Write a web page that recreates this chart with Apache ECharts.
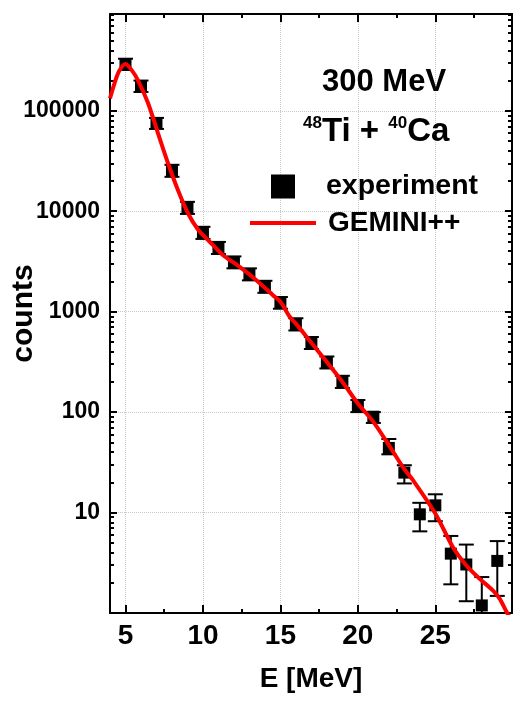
<!DOCTYPE html>
<html><head><meta charset="utf-8">
<script src="https://cdn.jsdelivr.net/npm/echarts@6/dist/echarts.min.js"></script>
<style>html,body{margin:0;padding:0;background:#fff}#c{width:513px;height:706px}</style>
</head><body><div id="c"></div>
<script>
const energies   = [5, 6, 7, 8, 9, 10, 11, 12, 13, 14, 15, 16, 17, 18, 19, 20, 21, 22, 23, 24, 25, 26, 27, 28, 29];
const counts     = [290000, 176000, 75000, 25300, 10800, 6100, 4300, 3090, 2350, 1770, 1224, 746, 489, 312, 200, 115, 90, 44, 25, 9.6, 11.8, 3.9, 3.04, 1.19, 3.3];
const countsLow  = [255000, 154000, 66000, 22000, 9400, 5300, 3750, 2700, 2050, 1540, 1070, 650, 425, 272, 174, 100, 78, 38, 19.5, 6.5, 8.2, 1.93, 1.31, 0.5, 1.48];
const countsHigh = [330000, 200000, 85000, 29000, 12400, 7000, 4950, 3550, 2700, 2030, 1400, 860, 560, 358, 230, 132, 100, 54, 29.6, 12.5, 15.2, 5.85, 4.8, 2.28, 5.2];

const modelE      = [4.0, 4.3, 4.6, 5.0, 5.4, 5.8, 6.46, 7.1, 7.75, 8.39, 9.04, 9.68, 10.33, 10.76, 11.3, 12.37, 13.45, 14.52, 15.0, 15.6, 16, 17, 18, 19, 20, 21, 22, 23, 23.56, 25, 26.13, 26.99, 27.85, 28.71, 29.15, 29.64, 30];
const modelCounts = [133000, 190000, 250000, 292000, 254000, 202000, 119000, 59600, 29900, 16200, 9500, 6590, 5150, 4420, 3650, 2790, 2060, 1459, 1253, 890, 760, 490, 315, 200, 122, 80, 47, 27, 21, 9.8, 4.54, 2.99, 2.2, 1.68, 1.39, 1.0, 0.82];

const xMajorTicks = [5, 10, 15, 20, 25];
const xMinorTicks = [7.5, 12.5, 17.5, 22.5, 27.5];
const yMajorTicks = [10, 100, 1000, 10000, 100000];
const yTickLabels = ['10', '100', '1000', '10000', '100000'];
const yMinorTicks = [2,3,4,5,6,7,8,9, 20,30,40,50,60,70,80,90, 200,300,400,500,600,700,800,900,
  2000,3000,4000,5000,6000,7000,8000,9000, 20000,30000,40000,50000,60000,70000,80000,90000,
  200000,300000,400000,500000,600000,700000,800000,900000];

const FONT = '"Liberation Sans", Arial, sans-serif';
const X_MIN = 4, X_MAX = 29.95, Y_MIN = 1, Y_MAX = 920000;
const tickStyle = {color: '#000', width: 2};
const gridLine = {show: true, lineStyle: {type: 'dotted', color: '#c8c8c8', width: 1}};

function xAx(pos, ticks, len, main) {
  return {
    type: 'value', gridIndex: 0, position: pos, min: X_MIN, max: X_MAX,
    axisLine: {show: !!main, onZero: false, lineStyle: {color: '#000', width: 2}},
    axisTick: {show: true, inside: true, length: len, customValues: ticks, lineStyle: tickStyle},
    axisLabel: main === 'label' ? {show: true, customValues: ticks, fontSize: 28, fontWeight: 'bold', color: '#000', fontFamily: FONT, margin: 9} : {show: false},
    splitLine: main === 'label' ? gridLine : {show: false},
    name: main === 'label' ? 'E [MeV]' : '',
    nameLocation: 'middle', nameGap: 52, nameMoveOverlap: false,
    nameTextStyle: {fontSize: 28, fontWeight: 'bold', color: '#000', fontFamily: FONT}
  };
}
function yAx(pos, ticks, len, main) {
  return {
    type: 'log', logBase: 10, gridIndex: 0, position: pos, min: Y_MIN, max: Y_MAX,
    axisLine: {show: !!main, lineStyle: {color: '#000', width: 2}},
    axisTick: {show: true, inside: true, length: len, customValues: ticks, lineStyle: tickStyle},
    axisLabel: main === 'label' ? {
      show: true, customValues: ticks, fontSize: 23, fontWeight: 'bold', color: '#000', fontFamily: FONT, margin: 10,
      formatter: function (v) {
        for (let i = 0; i < yMajorTicks.length; i++) if (Math.abs(yMajorTicks[i] - v) / yMajorTicks[i] < 1e-6) return yTickLabels[i];
        return '';
      }
    } : {show: false},
    splitLine: main === 'label' ? gridLine : {show: false},
    minorTick: {show: false}, minorSplitLine: {show: false},
    name: main === 'label' ? 'counts' : '',
    nameLocation: 'middle', nameGap: 71, nameRotate: 90, nameMoveOverlap: false,
    nameTextStyle: {fontSize: 30, fontWeight: 'bold', color: '#000', fontFamily: FONT}
  };
}

const chart = echarts.init(document.getElementById('c'), null, {renderer: 'canvas'});
chart.setOption({
  animation: false,
  backgroundColor: '#fff',
  grid: {left: 110, top: 14, right: 1, bottom: 93, containLabel: false, outerBoundsMode: 'none'},
  title: [
    {text: '300 MeV', left: 317, top: 62,
     textStyle: {fontSize: 31, fontWeight: 'bold', color: '#000', fontFamily: FONT}},
    {text: '{s|48}{m|Ti + }{s|40}{m|Ca}', left: 298, top: 110,
     textStyle: {rich: {
       s: {fontSize: 17, fontWeight: 'bold', color: '#000', fontFamily: FONT, verticalAlign: 'top', lineHeight: 34},
       m: {fontSize: 33, fontWeight: 'bold', color: '#000', fontFamily: FONT, lineHeight: 34}
     }}}
  ],
  legend: [
    {data: [{name: 'experiment', icon: 'rect'}], left: 271, top: 172, itemWidth: 24, itemHeight: 24,
     selectedMode: false, padding: 0,
     textStyle: {fontSize: 28.5, fontWeight: 'bold', color: '#000', fontFamily: FONT, padding: [0, 0, 0, 26]}},
    {data: [{name: 'GEMINI++', icon: 'rect'}], left: 250, top: 209, itemWidth: 66, itemHeight: 4,
     selectedMode: false, padding: 0,
     textStyle: {fontSize: 28, fontWeight: 'bold', color: '#000', fontFamily: FONT, padding: [0, 0, 0, 7]}}
  ],
  xAxis: [
    xAx('bottom', xMajorTicks, 8, 'label'),
    xAx('bottom', xMinorTicks, 4, false),
    xAx('top', xMajorTicks, 8, 'line'),
    xAx('top', xMinorTicks, 4, false)
  ],
  yAxis: [
    yAx('left', yMajorTicks, 7, 'label'),
    yAx('left', yMinorTicks, 4, false),
    yAx('right', yMajorTicks, 7, 'line'),
    yAx('right', yMinorTicks, 4, false)
  ],
  series: [
    {
      name: 'errors', type: 'custom', xAxisIndex: 0, yAxisIndex: 0, clip: true,
      data: energies.map((e, i) => [e, countsLow[i], countsHigh[i]]),
      encode: {x: 0, y: [1, 2]},
      renderItem: function (params, api) {
        const x = api.value(0);
        const p1 = api.coord([x, api.value(1)]);
        const p2 = api.coord([x, api.value(2)]);
        const w = 7.5;
        const st = {stroke: '#000', lineWidth: 2};
        return {type: 'group', children: [
          {type: 'line', shape: {x1: p1[0], y1: p1[1], x2: p2[0], y2: p2[1]}, style: st},
          {type: 'line', shape: {x1: p1[0] - w, y1: p1[1], x2: p1[0] + w, y2: p1[1]}, style: st},
          {type: 'line', shape: {x1: p2[0] - w, y1: p2[1], x2: p2[0] + w, y2: p2[1]}, style: st}
        ]};
      },
      z: 3
    },
    {
      name: 'experiment', type: 'scatter', xAxisIndex: 0, yAxisIndex: 0,
      data: energies.map((e, i) => [e, counts[i]]),
      symbol: 'rect', symbolSize: 12, itemStyle: {color: '#000', opacity: 1}, color: '#000', z: 4
    },
    {
      name: 'GEMINI++', type: 'line', xAxisIndex: 0, yAxisIndex: 0,
      data: modelE.map((e, i) => [e, modelCounts[i]]),
      showSymbol: false, symbol: 'none', smooth: 0.3, clip: true,
      color: '#ff0000', itemStyle: {color: '#ff0000'},
      lineStyle: {color: '#ff0000', width: 4}, z: 5
    }
  ]
});
</script>
</body></html>
